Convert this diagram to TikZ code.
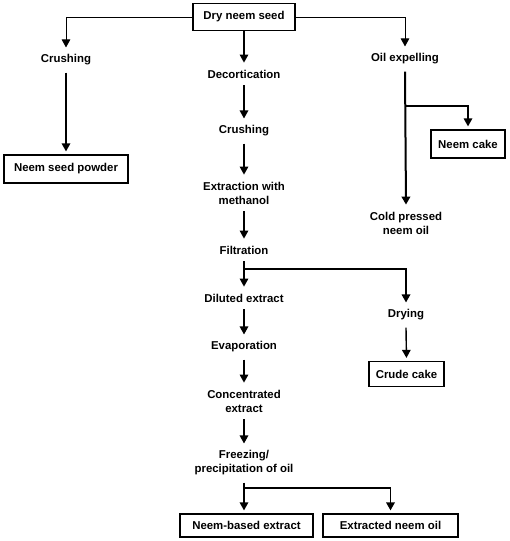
\documentclass[tikz,border=0pt]{standalone}
\usepackage{fontspec}
\setmainfont{Liberation Sans}
\usetikzlibrary{arrows.meta, positioning}

\begin{document}
\begin{tikzpicture}[x=1pt, y=-1pt,
    font=\fontsize{11.4}{14}\selectfont\bfseries,
    box/.style={draw, rectangle, line width=1.2pt, inner sep=2pt},
    lbl/.style={align=center, inner xsep=3pt, inner ysep=7pt},
    arr/.style={line width=1.4pt, -{Triangle[length=8pt, width=8.5pt]}},
    toarr/.style={arr, shorten >=3pt}]
    \useasboundingbox (0,0) rectangle (510,541);
    % Flowchart for processing dry neem seed
    \node[box, minimum width=102pt, minimum height=27pt] (dry) at (244,17) {Dry neem seed};
    \node[lbl] (crushA) at (66,60) {Crushing};
    \node[box, minimum width=124pt, minimum height=28pt] (powder) at (66,169) {Neem seed powder};
    \node[lbl] (decort) at (244,74) {Decortication};
    \node[lbl] (crushB) at (244,131) {Crushing};
    \node[lbl] (extract) at (244,193) {Extraction with\\methanol};
    \node[lbl] (filt) at (244,250) {Filtration};
    \node[lbl] (diluted) at (244,298) {Diluted extract};
    \node[lbl] (evap) at (244,347) {Evaporation};
    \node[lbl] (conc) at (244,401) {Concentrated\\extract};
    \node[lbl] (freeze) at (244,463) {Freezing/\\precipitation of oil};
    \node[box, minimum width=133pt, minimum height=23pt] (based) at (246.5,525.5) {Neem-based extract};
    \node[box, minimum width=135pt, minimum height=23pt] (oil) at (390.5,525.5) {Extracted neem oil};
    \node[lbl] (expel) at (405,59) {Oil expelling};
    \node[box, minimum width=74pt, minimum height=28pt] (cake) at (468,144) {Neem cake};
    \node[lbl] (cold) at (406,223) {Cold pressed\\neem oil};
    \node[lbl] (drying) at (406,315) {Drying};
    \node[box, minimum width=75pt, minimum height=25pt] (crude) at (406.5,374) {Crude cake};

    \coordinate (cakeSplit) at (406,106);
    \coordinate (filtSplit) at (244,269);
    \coordinate (freezeSplit) at (244,488);

    \draw[arr, line width=1pt] (dry.west) -| (crushA.north);
    \draw[toarr] (crushA.south) -- (powder.north);
    \draw[arr] (dry.south) -- (decort.north);
    \draw[arr] (decort.south) -- (crushB.north);
    \draw[arr] (crushB.south) -- (extract.north);
    \draw[arr] (extract.south) -- (filt.north);
    \draw[arr] (filt.south) -- (diluted.north);
    \draw[arr, line width=1.7pt] (filtSplit) -| (drying.north);
    \draw[toarr] (drying.south) -- (crude.north);
    \draw[arr] (diluted.south) -- (evap.north);
    \draw[arr] (evap.south) -- (conc.north);
    \draw[arr] (conc.south) -- (freeze.north);
    \draw[toarr] (freeze.south) -- (freeze.south |- based.north);
    \draw[toarr, line width=1.7pt] (freezeSplit) -| (oil.north);
    \draw[arr, line width=1pt] (dry.east) -| (expel.north);
    \draw[arr, line width=2pt] (expel.south) -- (cold.north);
    \draw[toarr] (cakeSplit) -| (cake.north);
\end{tikzpicture}
\end{document}
